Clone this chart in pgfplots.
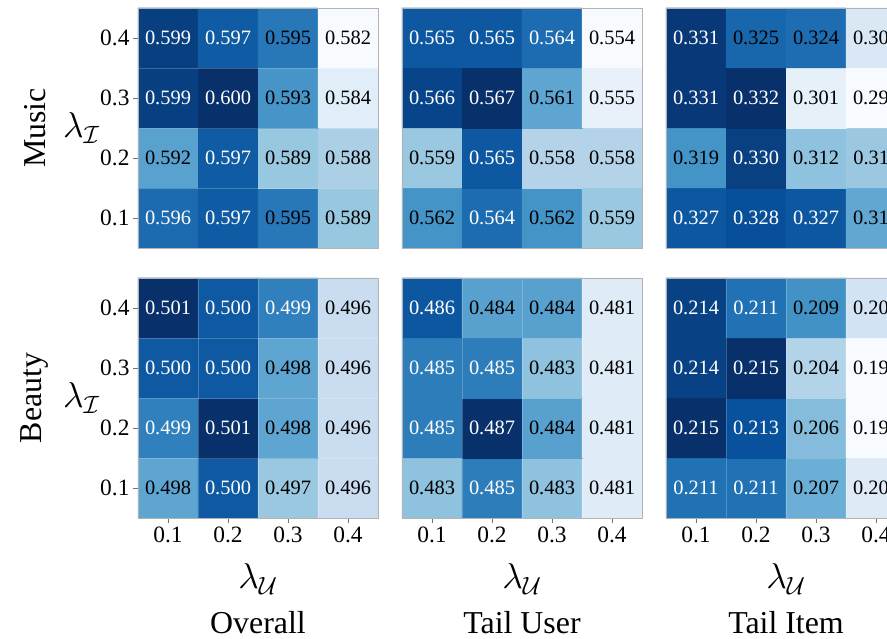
\documentclass[border=0pt]{standalone}
\usepackage{pgfplots}
\pgfplotsset{compat=1.18}
\usepackage{pgfplotstable}
\usepackage{fontspec}
\setmainfont{Liberation Serif}

% columns: x = lambda_U index, y = lambda_I index, v = value, w = 1 for white text
\pgfplotstableread{
x y v w
1 1 0.596 1
2 1 0.597 1
3 1 0.595 0
4 1 0.589 0
1 2 0.592 0
2 2 0.597 1
3 2 0.589 0
4 2 0.588 0
1 3 0.599 1
2 3 0.600 1
3 3 0.593 0
4 3 0.584 0
1 4 0.599 1
2 4 0.597 1
3 4 0.595 0
4 4 0.582 0
}\musicoverall
\pgfplotstableread{
x y v w
1 1 0.562 0
2 1 0.564 1
3 1 0.562 0
4 1 0.559 0
1 2 0.559 0
2 2 0.565 1
3 2 0.558 0
4 2 0.558 0
1 3 0.566 1
2 3 0.567 1
3 3 0.561 0
4 3 0.555 0
1 4 0.565 1
2 4 0.565 1
3 4 0.564 1
4 4 0.554 0
}\musicuser
\pgfplotstableread{
x y v w
1 1 0.327 1
2 1 0.328 1
3 1 0.327 1
4 1 0.316 0
1 2 0.319 0
2 2 0.330 1
3 2 0.312 0
4 2 0.311 0
1 3 0.331 1
2 3 0.332 1
3 3 0.301 0
4 3 0.298 0
1 4 0.331 1
2 4 0.325 0
3 4 0.324 0
4 4 0.303 0
}\musicitem
\pgfplotstableread{
x y v w
1 1 0.498 0
2 1 0.500 1
3 1 0.497 0
4 1 0.496 0
1 2 0.499 1
2 2 0.501 1
3 2 0.498 0
4 2 0.496 0
1 3 0.500 1
2 3 0.500 1
3 3 0.498 0
4 3 0.496 0
1 4 0.501 1
2 4 0.500 1
3 4 0.499 1
4 4 0.496 0
}\beautyoverall
\pgfplotstableread{
x y v w
1 1 0.483 0
2 1 0.485 1
3 1 0.483 0
4 1 0.481 0
1 2 0.485 1
2 2 0.487 1
3 2 0.484 0
4 2 0.481 0
1 3 0.485 1
2 3 0.485 1
3 3 0.483 0
4 3 0.481 0
1 4 0.486 1
2 4 0.484 0
3 4 0.484 0
4 4 0.481 0
}\beautyuser
\pgfplotstableread{
x y v w
1 1 0.211 1
2 1 0.211 1
3 1 0.207 0
4 1 0.201 0
1 2 0.215 1
2 2 0.213 1
3 2 0.206 0
4 2 0.199 0
1 3 0.214 1
2 3 0.215 1
3 3 0.204 0
4 3 0.199 0
1 4 0.214 1
2 4 0.211 1
3 4 0.209 0
4 4 0.202 0
}\beautyitem

\tikzset{
  rowlab/.style={xshift=-103bp, rotate=90, font=\fontsize{32}{32}\selectfont},
  collab/.style={yshift=-105bp, font=\fontsize{32}{32}\selectfont},
}
\pgfplotsset{
  colormap={blues}{rgb255=(247,251,255) rgb255=(222,235,247) rgb255=(198,219,239)
    rgb255=(158,202,225) rgb255=(107,174,214) rgb255=(66,146,198)
    rgb255=(33,113,181) rgb255=(8,81,156) rgb255=(8,48,107)},
  hm/.style={
    scale only axis, width=240bp, height=240bp,
    xmin=0.5, xmax=4.5, ymin=0.5, ymax=4.5,
    colormap name=blues, clip=false,
    axis on top,
    axis line style={black!30, line width=0.8bp},
    xtick=\empty, ytick=\empty,
    minor xtick={1.5,2.5,3.5}, minor ytick={1.5,2.5,3.5},
    xminorgrids, yminorgrids, minor tick length=0pt,
    minor grid style={white, opacity=0.22, line width=0.6bp},
    anchor=south west,
    major tick length=5bp, tick align=outside,
    major tick style={black!55, line width=0.6bp},
    ticklabel style={font=\fontsize{23.5}{27}\selectfont},
  },
  xl/.style={xtick={1,2,3,4}, xticklabels={0.1,0.2,0.3,0.4}, xtick pos=bottom,
    xlabel={$\lambda_{\mathcal{U}}$},
    xlabel style={font=\fontsize{24}{24}\selectfont, scale=1.45, at={(axis description cs:0.5,0)}, anchor=center, yshift=-42bp}},
  yl/.style={ytick={1,2,3,4}, yticklabels={0.1,0.2,0.3,0.4}, ytick pos=left,
    ylabel={$\lambda_{\mathcal{I}}$},
    ylabel style={font=\fontsize{24}{24}\selectfont, rotate=-90, scale=1.45, at={(axis description cs:0,0.5)}, anchor=center, xshift=-39bp}},
  hmplot/.style={matrix plot*, mesh/cols=4, point meta=explicit},
  lab/.style={only marks, mark=none, point meta=explicit,
    nodes near coords={\pgfmathprintnumber[fixed,fixed zerofill,precision=3,assume math mode=true]{\pgfplotspointmeta}},
    every node near coord/.append style={anchor=center, text=#1, font=\fontsize{20.5}{24}\selectfont}},
  labw/.style={lab=white, restrict expr to domain={\thisrow{w}}{0.5:1.5}},
  labb/.style={lab=black, restrict expr to domain={\thisrow{w}}{-0.5:0.5}},
}

\begin{document}
\begin{tikzpicture}
\useasboundingbox (0,0) rectangle (887bp,639bp);
\clip (0,0) rectangle (887bp,639bp);
% Music row
\begin{axis}[hm, yl, at={(138bp,391bp)}]
  \addplot[hmplot] table[x=x, y=y, meta=v] {\musicoverall};
  \addplot[labw] table[x=x, y=y, meta=v] {\musicoverall};
  \addplot[labb] table[x=x, y=y, meta=v] {\musicoverall};
  \node[rowlab] at (axis description cs:0,0.5) {Music};
\end{axis}
\begin{axis}[hm, at={(402bp,391bp)}]
  \addplot[hmplot] table[x=x, y=y, meta=v] {\musicuser};
  \addplot[labw] table[x=x, y=y, meta=v] {\musicuser};
  \addplot[labb] table[x=x, y=y, meta=v] {\musicuser};
\end{axis}
\begin{axis}[hm, at={(666bp,391bp)}]
  \addplot[hmplot] table[x=x, y=y, meta=v] {\musicitem};
  \addplot[labw] table[x=x, y=y, meta=v] {\musicitem};
  \addplot[labb] table[x=x, y=y, meta=v] {\musicitem};
\end{axis}
% Beauty row
\begin{axis}[hm, yl, xl, at={(138bp,121bp)}, point meta min=0.4945, point meta max=0.501]
  \addplot[hmplot] table[x=x, y=y, meta=v] {\beautyoverall};
  \addplot[labw] table[x=x, y=y, meta=v] {\beautyoverall};
  \addplot[labb] table[x=x, y=y, meta=v] {\beautyoverall};
  \node[rowlab] at (axis description cs:0,0.5) {Beauty};
  \node[collab] at (axis description cs:0.5,0) {Overall};
\end{axis}
\begin{axis}[hm, xl, at={(402bp,121bp)}, point meta min=0.4802, point meta max=0.487]
  \addplot[hmplot] table[x=x, y=y, meta=v] {\beautyuser};
  \addplot[labw] table[x=x, y=y, meta=v] {\beautyuser};
  \addplot[labb] table[x=x, y=y, meta=v] {\beautyuser};
  \node[collab] at (axis description cs:0.5,0) {Tail User};
\end{axis}
\begin{axis}[hm, xl, at={(666bp,121bp)}]
  \addplot[hmplot] table[x=x, y=y, meta=v] {\beautyitem};
  \addplot[labw] table[x=x, y=y, meta=v] {\beautyitem};
  \addplot[labb] table[x=x, y=y, meta=v] {\beautyitem};
  \node[collab] at (axis description cs:0.5,0) {Tail Item};
\end{axis}
\end{tikzpicture}
\end{document}
